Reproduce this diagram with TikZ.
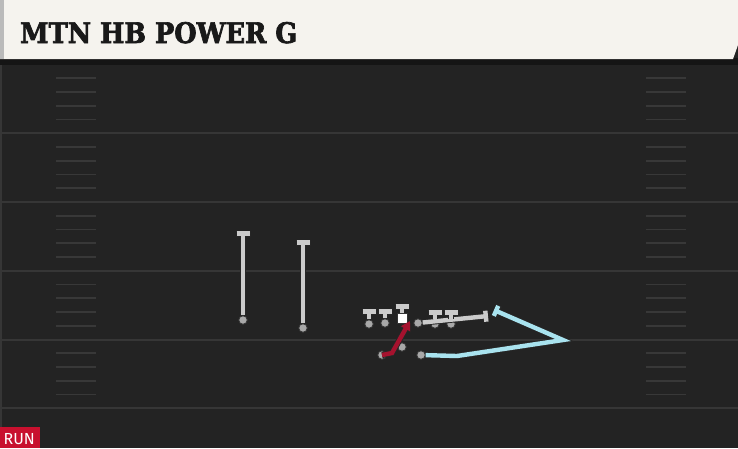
\documentclass[tikz,border=0pt]{standalone}
\usepackage{fontspec}
\usepackage{graphicx}
\usepackage{xcolor}
\usetikzlibrary{arrows.meta}
\newfontfamily\titlefont{DejaVu Serif}[BoldFeatures={FakeBold=2.5}]
\newfontfamily\badgefont{Fira Sans}
\definecolor{headercream}{HTML}{F5F3EE}
\definecolor{fielddark}{HTML}{232323}
\definecolor{banddark}{HTML}{151515}
\definecolor{yardgray}{HTML}{363636}
\definecolor{hashgray}{HTML}{383838}
\definecolor{routegray}{HTML}{CBCBCB}
\definecolor{dotgray}{HTML}{A8A8A8}
\definecolor{runred}{HTML}{C8102E}
\definecolor{pathred}{HTML}{A5122E}
\definecolor{pathblue}{HTML}{A9E3EF}

\tikzset{
  player/.style={circle, fill=dotgray, draw=black!80, line width=0.8pt, inner sep=0pt, minimum size=8.5pt},
  block/.style={draw=routegray, line width=4.6pt, -{Bar[width=13pt]},
    preaction={draw=black!85, line width=6.4pt, -{Bar[width=15pt]}}},
  pullroute/.style={draw=routegray, line width=4.4pt, -{Bar[width=11pt]},
    preaction={draw=black!85, line width=6.2pt, -{Bar[width=13pt]}}},
  blueroute/.style={draw=pathblue, line width=4.4pt, -{Bar[width=11pt]},
    preaction={draw=black!85, line width=6.2pt, -{Bar[width=13pt]}}},
  redroute/.style={draw=pathred, line width=4.4pt, -{Triangle[length=9pt,width=10pt]},
    preaction={draw=black!85, line width=6.2pt, -{Triangle[length=10pt,width=12pt]}}},
}

\begin{document}
\begin{tikzpicture}[x=1pt, y=-1pt]
    \useasboundingbox (0,0) rectangle (738,448);
    % field
    \fill[fielddark] (0,0) rectangle (738,448);
    \fill[yardgray] (0,60) rectangle (2,448);
    \foreach \yl in {133.25,202,270.75,339.5,408.25}
        \draw[yardgray, line width=2pt] (2,\yl) -- (738,\yl);
    \foreach \i in {0,...,4}
        \foreach \k in {1,...,4} {
            \draw[hashgray, line width=1.6pt] (56,64.5+68.75*\i+13.75*\k) -- (96,64.5+68.75*\i+13.75*\k);
            \draw[hashgray, line width=1.6pt] (646,64.5+68.75*\i+13.75*\k) -- (686,64.5+68.75*\i+13.75*\k);
        }
    % header
    \fill[banddark] (0,58) rectangle (738,65);
    \fill[headercream] (0,0) -- (738,0) -- (738,45) -- (733,59) -- (0,59) -- cycle;
    \fill[black!27] (0,0) rectangle (4,59);
    \node[anchor=base west, inner sep=0pt, text=black!90] (title) at (20,43)
        {\resizebox{277pt}{21pt}{\titlefont\bfseries MTN HB POWER G}};
    % badge
    \fill[runred] (0,427) rectangle (40,448);
    \node[anchor=base west, inner sep=0pt, text=white, font=\badgefont\fontsize{16}{16}\selectfont] (badge) at (3.5,444) {RUN};

    % players
    \node[player] (wra) at (243,320) {};
    \node[player] (wrb) at (303,328) {};
    \node[player] (lta) at (369,324) {};
    \node[player] (ltb) at (385,323) {};
    \node[rectangle, fill=white, draw=black!80, line width=0.7pt, minimum size=10pt, inner sep=0pt] (ctr) at (402,318) {};
    \node[player] (pg) at (418,323) {};
    \node[player] (ltc) at (435,324) {};
    \node[player] (ltd) at (451,324) {};
    \node[player] (qb) at (402,347) {};
    \node[player] (hb) at (382,355) {};
    \node[player] (fb) at (421,355) {};

    \coordinate (wraend) at (243,231);
    \coordinate (wrbend) at (303,240);
    \coordinate (ltaend) at (369,309);
    \coordinate (ltbend) at (385,309);
    \coordinate (ctrend) at (402,304);
    \coordinate (ltcend) at (435,310);
    \coordinate (ltdend) at (451,310);
    \coordinate (pgend) at (488,316);
    \coordinate (hbcut) at (392,353);
    \coordinate (hbend) at (410,321);
    \coordinate (fba) at (457,356);
    \coordinate (fbb) at (563,340);
    \coordinate (fbend) at (494,310);

    % routes
    \draw[block] (wra) -- (wraend);
    \draw[block] (wrb) -- (wrbend);
    \draw[block] (lta) -- (ltaend);
    \draw[block] (ltb) -- (ltbend);
    \draw[block] (ctr) -- (ctrend);
    \draw[pullroute] (pg) -- (pgend);
    \draw[block] (ltc) -- (ltcend);
    \draw[block] (ltd) -- (ltdend);
    \draw[blueroute] (fb) -- (fba) -- (fbb) -- (fbend);
    \draw[redroute] (hb.center) -- (hbcut) -- (hbend);
\end{tikzpicture}
\end{document}
